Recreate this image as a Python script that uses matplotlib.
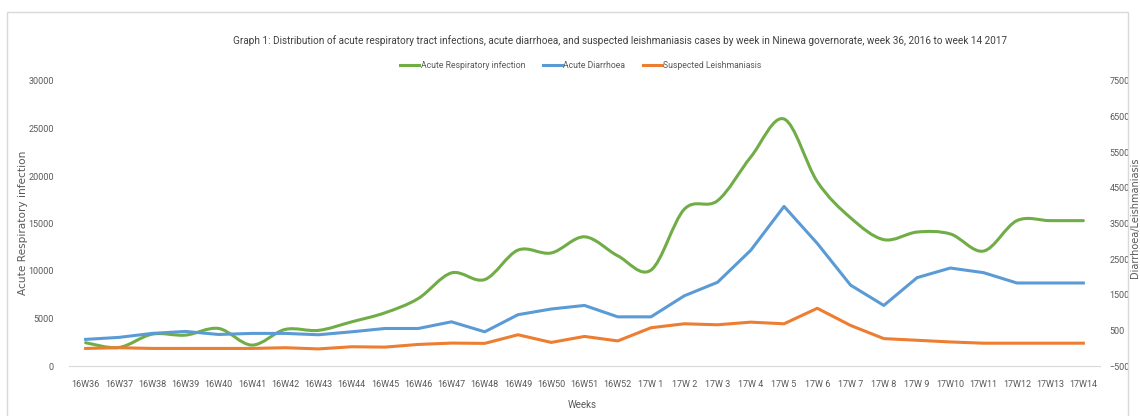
import numpy as np
import matplotlib
matplotlib.use("Agg")
import matplotlib.pyplot as plt
from matplotlib.path import Path
from matplotlib.patches import PathPatch, Rectangle
from matplotlib.lines import Line2D

# week labels
weeks = ['16W36', '16W37', '16W38', '16W39', '16W40', '16W41', '16W42', '16W43',
         '16W44', '16W45', '16W46', '16W47', '16W48', '16W49', '16W50', '16W51',
         '16W52', '17W 1', '17W 2', '17W 3', '17W 4', '17W 5', '17W 6', '17W 7',
         '17W 8', '17W 9', '17W10', '17W11', '17W12', '17W13', '17W14']

# acute respiratory infection (left axis)
ari = [2450, 1950, 3350, 3250, 3950, 2200, 3850, 3750, 4650, 5600, 7100, 9800,
       9100, 12200, 11900, 13600, 11600, 10100, 16500, 17400, 22000, 26000,
       19400, 15600, 13300, 14100, 13900, 12100, 15300, 15300, 15300]

# acute diarrhoea (right axis)
diarrhoea = [247, 303, 415, 470, 385, 415, 415, 377, 460, 553, 553, 740, 460,
             940, 1100, 1200, 880, 880, 1470, 1850, 2750, 3980, 2940, 1770,
             1200, 1980, 2250, 2120, 1830, 1830, 1830]

# suspected leishmaniasis (right axis)
leish = [-7, 13, -7, -7, -7, -7, 13, -20, 40, 30, 105, 143, 135, 377, 162, 330,
         204, 574, 685, 657, 731, 685, 1120, 639, 269, 222, 175, 140, 140, 140, 140]

green = '#70AD47'
blue = '#5B9BD5'
orange = '#ED7D31'
grey = '#595959'

plt.rcParams['font.family'] = ['Roboto', 'DejaVu Sans']

fig = plt.figure(figsize=(11.4, 4.16), dpi=100)
ax = fig.add_axes([69 / 1140, 50 / 416, 1031 / 1140, 285 / 416])
ax2 = ax.twinx()

x = np.arange(len(weeks))

# smoothed green line (excel style bezier through the points)
pts = np.column_stack([x, ari]).astype(float)
ext = np.vstack([pts[0], pts, pts[-1]])
verts = [pts[0]]
codes = [Path.MOVETO]
for i in range(len(pts) - 1):
    p0, p1, p2, p3 = ext[i], ext[i + 1], ext[i + 2], ext[i + 3]
    verts += [p1 + (p2 - p0) / 6, p2 - (p3 - p1) / 6, p2]
    codes += [Path.CURVE4] * 3
ax.add_patch(PathPatch(Path(verts, codes), facecolor='none', edgecolor=green,
                       lw=2.2, capstyle='round', joinstyle='round'))

ax2.plot(x, diarrhoea, color=blue, lw=2.2, solid_joinstyle='round')
ax2.plot(x, leish, color=orange, lw=2.2, solid_joinstyle='round')

ax.set_xlim(-0.5, len(weeks) - 0.5)
ax.set_ylim(0, 30000)
ax.set_yticks(np.arange(0, 30001, 5000))
ax2.set_ylim(-500, 7500)
ax2.set_yticks(np.arange(-500, 7501, 1000))
ax.set_xticks(x)
ax.set_xticklabels(weeks)

for a in (ax, ax2):
    for s in a.spines.values():
        s.set_visible(False)
    a.tick_params(length=0, colors=grey, labelsize=6.5)
ax.spines['bottom'].set_visible(True)
ax.spines['bottom'].set_color('#D9D9D9')
ax.tick_params(axis='x', pad=10)
ax.tick_params(axis='y', pad=11)
ax2.tick_params(axis='y', pad=7)

fig.text(23 / 1140, 1 - 223 / 416, 'Acute Respiratory infection', rotation=90,
         ha='center', va='center', color=grey, fontsize=7.6, family='DejaVu Sans')
fig.text(1135 / 1140, 1 - 218 / 416, 'Diarrhoea/Leishmaniasis', rotation=90,
         ha='center', va='center', color=grey, fontsize=7, family='DejaVu Sans')
fig.text(582 / 1140, 1 - 405 / 416, 'Weeks', ha='center', va='center',
         color=grey, fontsize=7)

fig.text(620 / 1140, 1 - 41 / 416,
         'Graph 1: Distribution of acute respiratory tract infections, acute diarrhoea, '
         'and suspected leishmaniasis cases by week in Ninewa governorate, week 36, 2016 to week 14 2017',
         ha='center', va='center', color='#404040', fontsize=7.2)

handles = [Line2D([], [], color=green, lw=2.2),
           Line2D([], [], color=blue, lw=2.2),
           Line2D([], [], color=orange, lw=2.2)]
fig.legend(handles, ['Acute Respiratory infection', 'Acute Diarrhoea', 'Suspected Leishmaniasis'],
           loc='center', bbox_to_anchor=(581 / 1140, 1 - 66 / 416), ncol=3, frameon=False,
           fontsize=6.2, handlelength=2.2, handletextpad=0.2, columnspacing=2.0,
           labelcolor=grey)

# chart frame
fig.patches.append(Rectangle((7 / 1140, -0.05), 1121 / 1140, 1.05 - 12 / 416,
                             transform=fig.transFigure, fill=False,
                             edgecolor='#D9D9D9', lw=1))

fig.savefig('out.png', dpi=100)
